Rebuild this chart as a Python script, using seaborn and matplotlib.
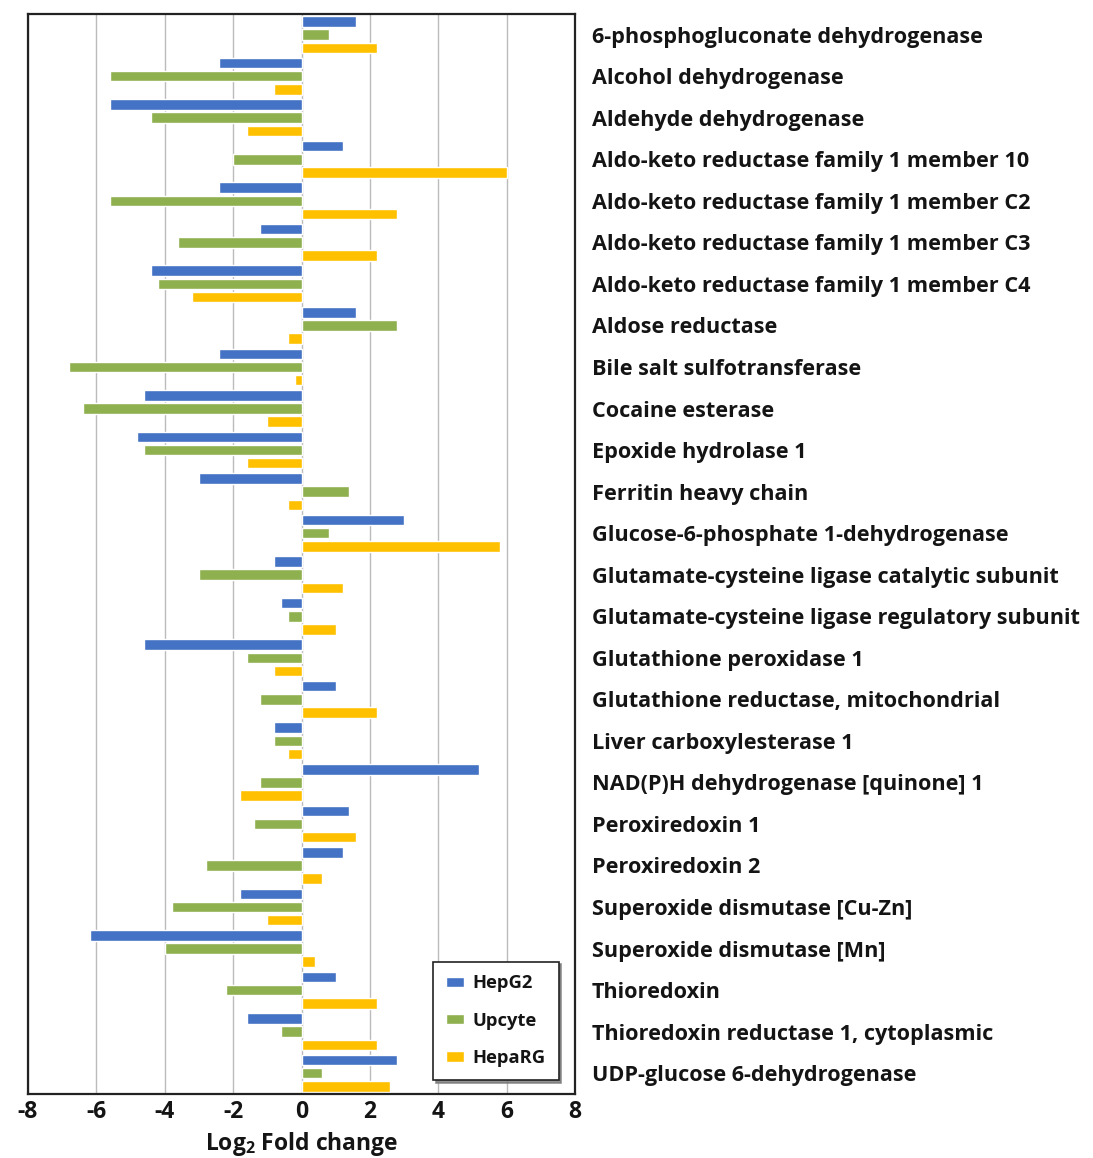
import matplotlib
matplotlib.use("Agg")
import matplotlib.pyplot as plt
import seaborn as sns
import pandas as pd

enzymes = [
    "6-phosphogluconate dehydrogenase",
    "Alcohol dehydrogenase",
    "Aldehyde dehydrogenase",
    "Aldo-keto reductase family 1 member 10",
    "Aldo-keto reductase family 1 member C2",
    "Aldo-keto reductase family 1 member C3",
    "Aldo-keto reductase family 1 member C4",
    "Aldose reductase",
    "Bile salt sulfotransferase",
    "Cocaine esterase",
    "Epoxide hydrolase 1",
    "Ferritin heavy chain",
    "Glucose-6-phosphate 1-dehydrogenase",
    "Glutamate-cysteine ligase catalytic subunit",
    "Glutamate-cysteine ligase regulatory subunit",
    "Glutathione peroxidase 1",
    "Glutathione reductase, mitochondrial",
    "Liver carboxylesterase 1",
    "NAD(P)H dehydrogenase [quinone] 1",
    "Peroxiredoxin 1",
    "Peroxiredoxin 2",
    "Superoxide dismutase [Cu-Zn]",
    "Superoxide dismutase [Mn]",
    "Thioredoxin",
    "Thioredoxin reductase 1, cytoplasmic",
    "UDP-glucose 6-dehydrogenase",
]

hepg2 = [1.6, -2.4, -5.6, 1.2, -2.4, -1.2, -4.4, 1.6, -2.4, -4.6, -4.8, -3.0, 3.0,
         -0.8, -0.6, -4.6, 1.0, -0.8, 5.2, 1.4, 1.2, -1.8, -6.2, 1.0, -1.6, 2.8]
upcyte = [0.8, -5.6, -4.4, -2.0, -5.6, -3.6, -4.2, 2.8, -6.8, -6.4, -4.6, 1.4, 0.8,
          -3.0, -0.4, -1.6, -1.2, -0.8, -1.2, -1.4, -2.8, -3.8, -4.0, -2.2, -0.6, 0.6]
heparg = [2.2, -0.8, -1.6, 6.0, 2.8, 2.2, -3.2, -0.4, -0.2, -1.0, -1.6, -0.4, 5.8,
          1.2, 1.0, -0.8, 2.2, -0.4, -1.8, 1.6, 0.6, -1.0, 0.4, 2.2, 2.2, 2.6]

series_names = ["HepG2", "Upcyte", "HepaRG"]
series_colors = ["#4472C4", "#8FB04E", "#FFC000"]

df = pd.DataFrame({
    "enzyme": enzymes * 3,
    "line": [s for s in series_names for _ in enzymes],
    "value": hepg2 + upcyte + heparg,
})

sns.set_theme(style="white")
plt.rcParams["font.family"] = ["Open Sans", "DejaVu Sans"]
plt.rcParams["font.weight"] = "bold"
plt.rcParams["mathtext.fontset"] = "custom"
plt.rcParams["mathtext.rm"] = "Open Sans:bold"
plt.rcParams["mathtext.bf"] = "Open Sans:bold"
TEXT = "#141414"

fig = plt.figure(figsize=(10.93, 11.58), dpi=100)
ax = fig.add_axes([0.0256, 0.0553, 0.5005, 0.9327])

sns.barplot(data=df, x="value", y="enzyme", hue="line", order=enzymes,
            hue_order=series_names, palette=series_colors, orient="h",
            width=0.95, gap=0.2, saturation=1, ax=ax, legend=True)

ax.set_xlim(-8, 8)
ax.set_ylim(len(enzymes) - 0.5, -0.5)
ax.set_xticks(range(-8, 9, 2))
ax.set_xticklabels([str(v) for v in range(-8, 9, 2)], fontsize=16.5, fontweight="bold",
                   color=TEXT)
ax.xaxis.grid(True, color="#BBBBBB", linewidth=1.0)
ax.set_axisbelow(True)
ax.tick_params(axis="x", length=0, pad=4)

ax.yaxis.tick_right()
ax.tick_params(axis="y", length=0, pad=12)
for lbl in ax.get_yticklabels():
    lbl.set_fontsize(15.6)
    lbl.set_fontweight("bold")
    lbl.set_color(TEXT)
ax.set_ylabel("")
ax.set_xlabel(r"Log$_2$ Fold change", fontsize=16.5, fontweight="bold", labelpad=5,
              color=TEXT)

for sp in ax.spines.values():
    sp.set_color("#222222")
    sp.set_linewidth(1.6)

leg = ax.legend(loc="lower right", bbox_to_anchor=(0.98, 0.008), frameon=True,
                fancybox=False, shadow={"color": "#777777", "alpha": 0.8}, fontsize=13.2,
                title=None, handlelength=1.0, handleheight=0.5, labelspacing=1.05,
                borderpad=0.7, borderaxespad=0.3, handletextpad=0.45)
leg.set_zorder(10)
leg.get_frame().set_edgecolor("#222222")
leg.get_frame().set_linewidth(1.2)
for t in leg.get_texts():
    t.set_fontweight("bold")
    t.set_color(TEXT)

fig.savefig("out.png", dpi=100, facecolor="white")
